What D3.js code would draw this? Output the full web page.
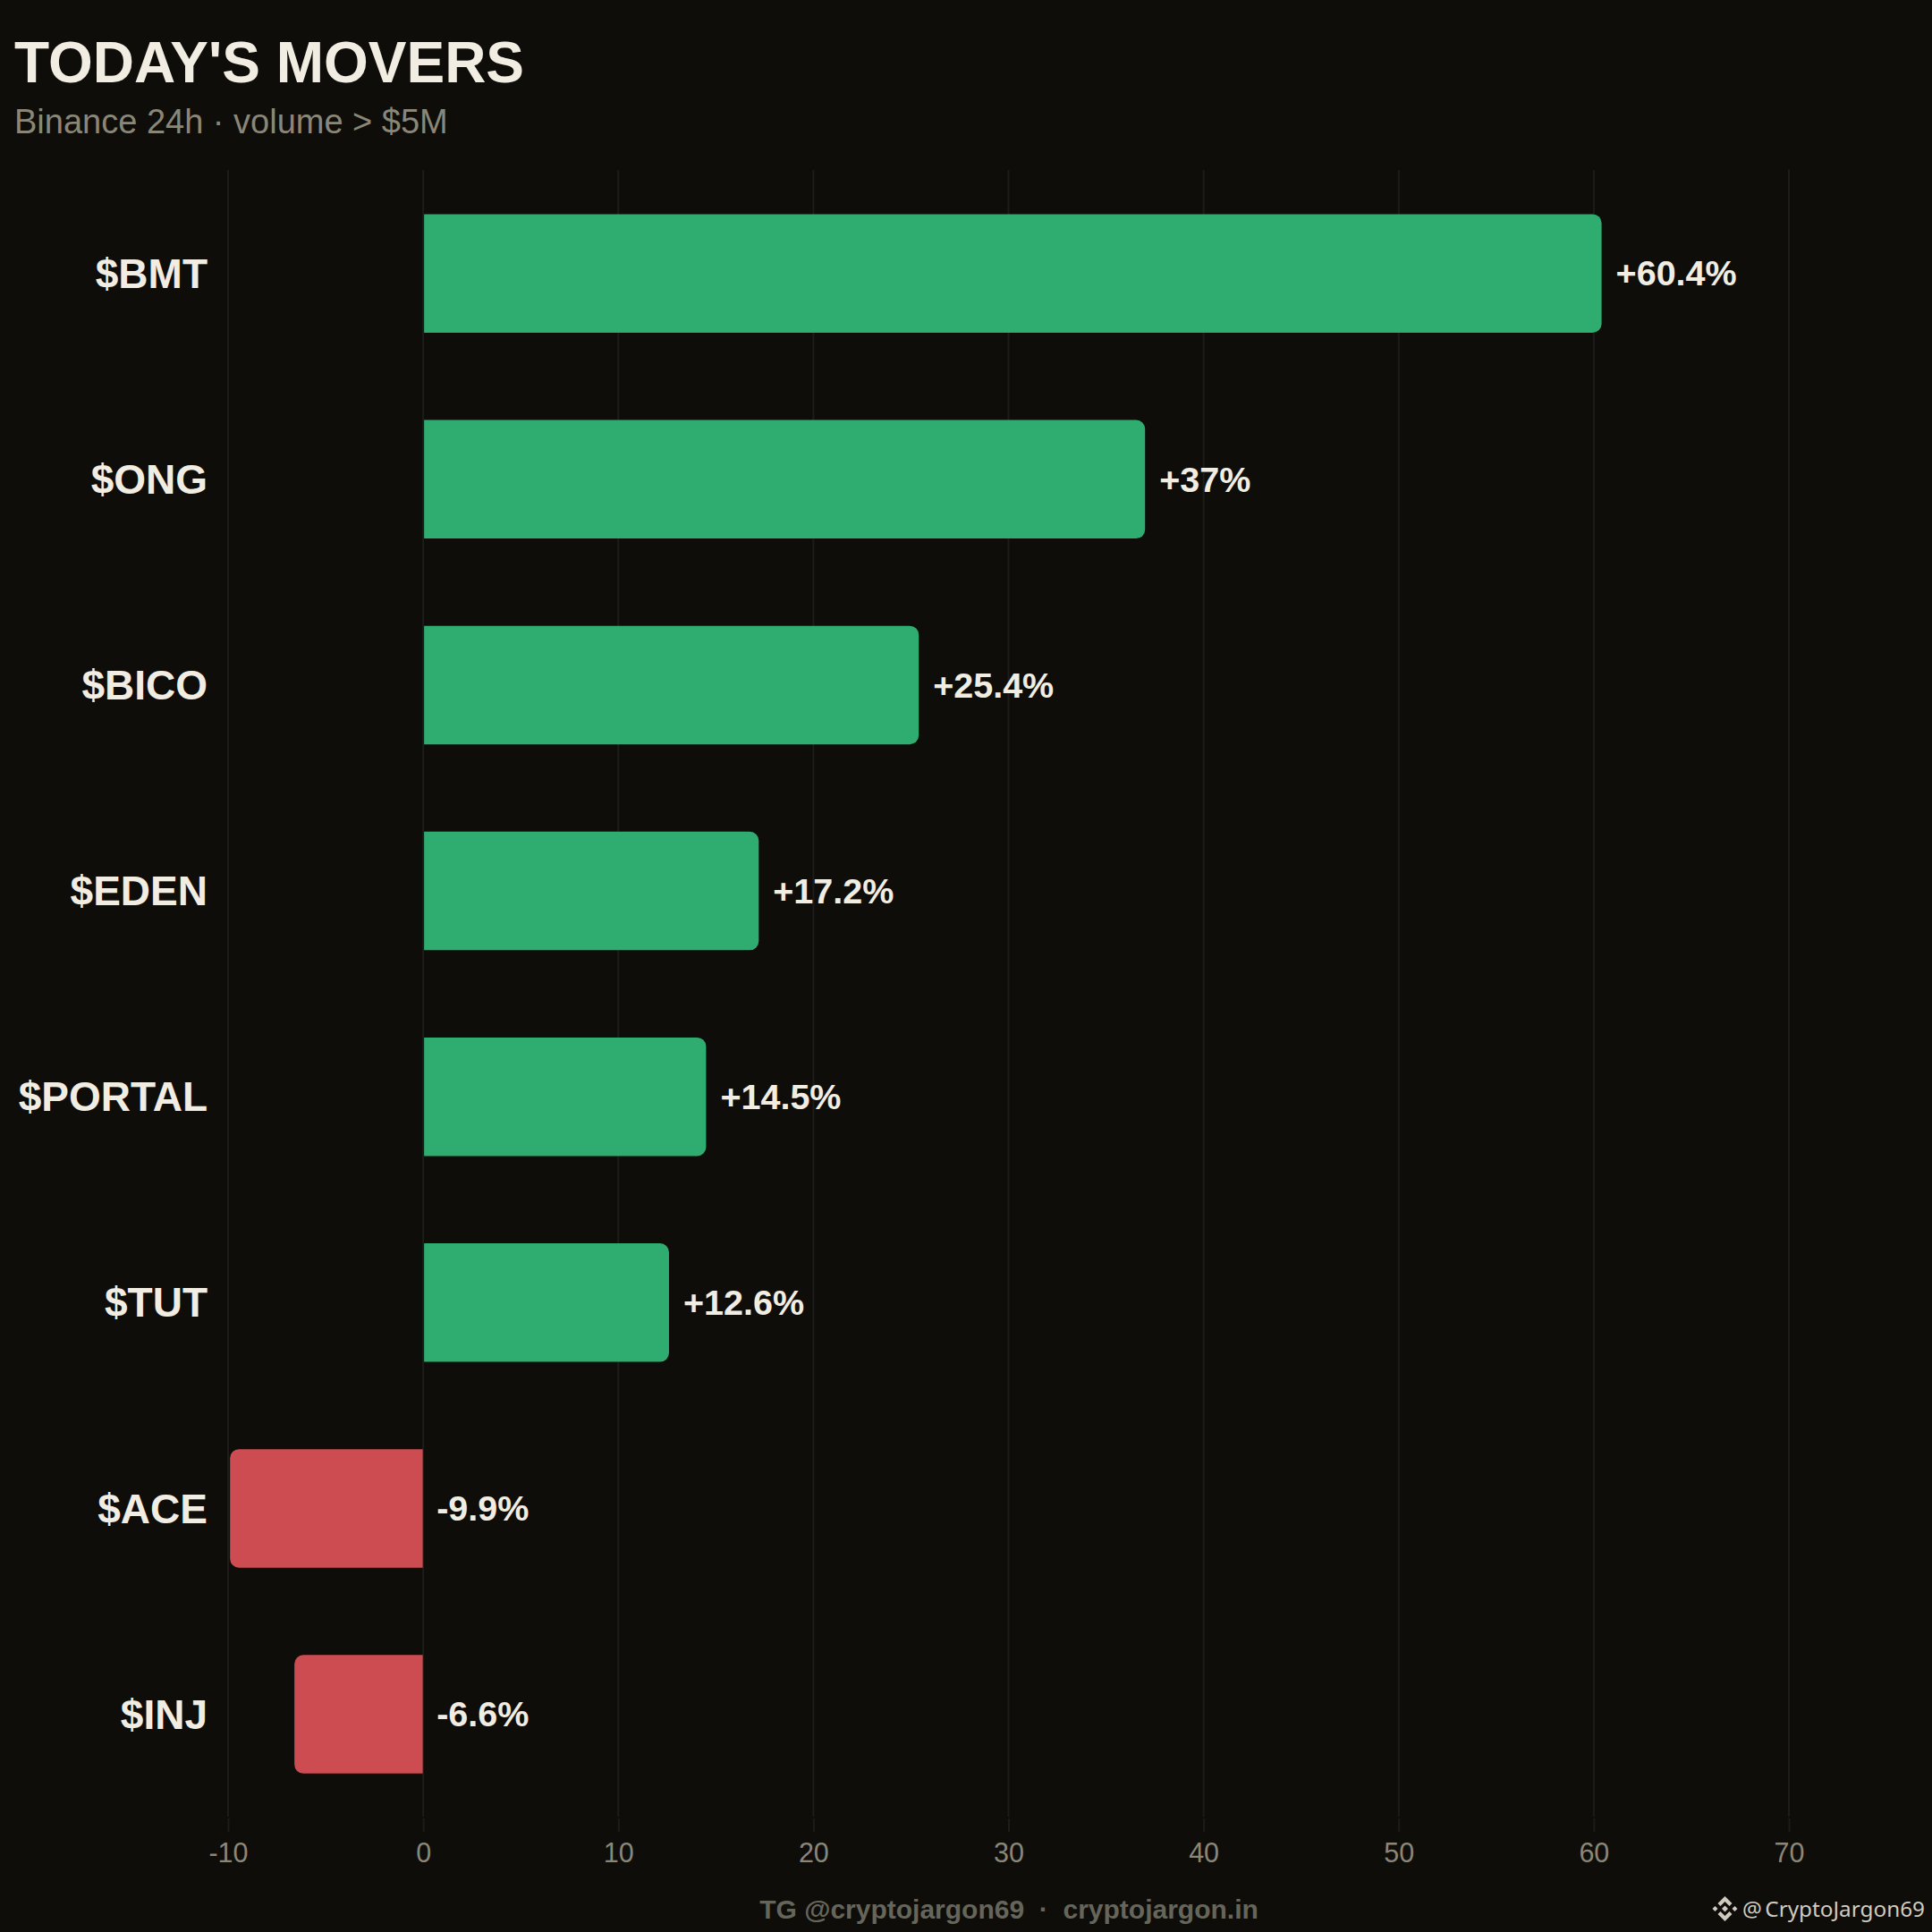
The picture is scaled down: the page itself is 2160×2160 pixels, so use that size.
<!DOCTYPE html>
<html>
<head>
<meta charset="utf-8">
<script src="https://cdn.jsdelivr.net/npm/d3@7"></script>
<style>
    html, body { margin: 0; padding: 0; background: #0e0d0a; }
    svg { display: block; }
    text { font-family: "Liberation Sans", Arial, sans-serif; }
</style>
</head>
<body>
<div id="chart"></div>
<script>
const symbols = ["$BMT", "$ONG", "$BICO", "$EDEN", "$PORTAL", "$TUT", "$ACE", "$INJ"];
const changes = [60.4, 37, 25.4, 17.2, 14.5, 12.6, -9.9, -6.6];
const xTicks = [-10, 0, 10, 20, 30, 40, 50, 60, 70];

const size = 2160;
const svg = d3.select("#chart").append("svg")
    .attr("width", size)
    .attr("height", size);

svg.append("rect")
    .attr("width", size)
    .attr("height", size)
    .attr("fill", "#0e0d0a");

const x = d3.scaleLinear().domain([-10, 70]).range([255, 2000]);
const y = d3.scaleBand()
    .domain(symbols)
    .range([190.6, 2031.6])
    .paddingInner(0.424)
    .paddingOuter(0.212);

// Grid
svg.selectAll(".grid")
    .data(xTicks)
    .enter()
    .append("line")
    .attr("class", "grid")
    .attr("x1", d => x(d))
    .attr("x2", d => x(d))
    .attr("y1", 190)
    .attr("y2", 2031)
    .attr("stroke", "#1c1c1a")
    .attr("stroke-width", 2);

// Axis
const xAxis = d3.axisBottom(x)
    .tickValues(xTicks)
    .tickFormat(d => d)
    .tickSize(15)
    .tickPadding(12.5);

const axisG = svg.append("g")
    .attr("transform", "translate(0,2033)")
    .call(xAxis);
axisG.select(".domain").remove();
axisG.selectAll(".tick line").attr("stroke", "#1c1c1a").attr("stroke-width", 2);
axisG.selectAll(".tick text")
    .attr("fill", "#8a8778")
    .attr("font-size", 30.5)
    .style("font-family", '"Liberation Sans", Arial, sans-serif');

// Bars, rounded only on the far end
const radius = 10;
function barPath(value, name) {
    const top = y(name);
    const bottom = top + y.bandwidth();
    const end = x(value);
    if (value >= 0) {
        const start = x(0) + 1;
        return `M${start},${top}H${end - radius}A${radius},${radius} 0 0 1 ${end},${top + radius}` +
            `V${bottom - radius}A${radius},${radius} 0 0 1 ${end - radius},${bottom}H${start}Z`;
    }
    const start = x(0) - 0.5;
    return `M${start},${top}H${end + radius}A${radius},${radius} 0 0 0 ${end},${top + radius}` +
        `V${bottom - radius}A${radius},${radius} 0 0 0 ${end + radius},${bottom}H${start}Z`;
}

svg.selectAll(".bar")
    .data(symbols)
    .enter()
    .append("path")
    .attr("class", "bar")
    .attr("d", (d, i) => barPath(changes[i], d))
    .attr("fill", (d, i) => changes[i] >= 0 ? "#2fac70" : "#cd4c51");

// Symbol labels
svg.selectAll(".symbol")
    .data(symbols)
    .enter()
    .append("text")
    .attr("class", "symbol")
    .attr("x", 232)
    .attr("y", d => y(d) + y.bandwidth() / 2)
    .attr("dy", "0.35em")
    .attr("text-anchor", "end")
    .attr("font-size", 46)
    .attr("font-weight", "bold")
    .attr("fill", "#f2ede2")
    .text(d => d);

// Value labels
svg.selectAll(".value")
    .data(symbols)
    .enter()
    .append("text")
    .attr("class", "value")
    .attr("x", (d, i) => (changes[i] >= 0 ? x(changes[i]) + 16 : x(0) + 15))
    .attr("y", d => y(d) + y.bandwidth() / 2)
    .attr("dy", "0.35em")
    .attr("font-size", 39.5)
    .attr("font-weight", "bold")
    .attr("fill", "#f2ede2")
    .text((d, i) => (changes[i] >= 0 ? "+" : "") + changes[i] + "%");

// Titles
svg.append("text")
    .attr("x", 16)
    .attr("y", 92)
    .attr("font-size", 64)
    .attr("font-weight", "bold")
    .attr("fill", "#f2ede2")
    .text("TODAY'S MOVERS");

svg.append("text")
    .attr("x", 16)
    .attr("y", 148.5)
    .attr("font-size", 38)
    .attr("fill", "#8a8778")
    .text("Binance 24h · volume > $5M");

// Footer
svg.append("text")
    .attr("x", 1128)
    .attr("y", 2144.5)
    .attr("text-anchor", "middle")
    .attr("font-size", 30)
    .attr("font-weight", "bold")
    .attr("fill", "#66655a")
    .attr("xml:space", "preserve")
    .style("white-space", "pre")
    .text("TG @cryptojargon69  ·  cryptojargon.in");

// Watermark logo
const logo = svg.append("g")
    .attr("transform", "translate(1928.5,2134)")
    .attr("fill", "#cfcbc0");
logo.append("path").attr("d", "M0,-14L8,-6L5,-3L0,-8L-5,-3L-8,-6Z");
logo.append("path").attr("d", "M0,14L8,6L5,3L0,8L-5,3L-8,6Z");
logo.append("path").attr("d", "M0,-3.5L3.5,0L0,3.5L-3.5,0Z");
logo.append("path").attr("d", "M-11,-3L-8,0L-11,3L-14,0Z");
logo.append("path").attr("d", "M11,-3L14,0L11,3L8,0Z");

svg.append("text")
    .attr("x", 1948)
    .attr("y", 2143)
    .attr("font-size", 24.3)
    .attr("fill", "#cfcbc0")
    .style("font-family", '"Noto Sans", sans-serif')
    .text("@");

svg.append("text")
    .attr("x", 2152)
    .attr("y", 2143)
    .attr("text-anchor", "end")
    .attr("font-size", 24.3)
    .attr("fill", "#cfcbc0")
    .style("font-family", '"Noto Sans", sans-serif')
    .text("CryptoJargon69");
</script>
</body>
</html>
